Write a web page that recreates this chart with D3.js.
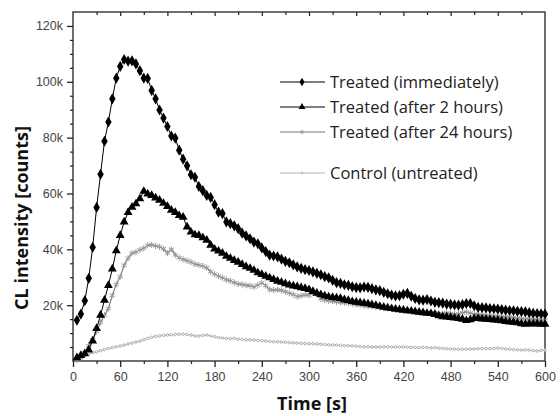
<!DOCTYPE html>
<html><head><meta charset="utf-8">
<script src="https://cdn.jsdelivr.net/npm/d3@7"></script>
<style>body{margin:0;background:#fff}svg{display:block}</style>
</head><body>
<svg id="c" width="560" height="416"></svg>
<script>
const times = d3.range(5, 601, 5);
const seriesNames = ["Treated (immediately)", "Treated (after 2 hours)", "Treated (after 24 hours)", "Control (untreated)"];
const immediately = [14.6,16.8,21.6,29.6,40.7,55.0,66.9,78.7,85.6,93.9,101.3,105.5,108.0,107.4,107.5,106.4,104.0,101.3,101.2,96.9,93.9,89.9,87.0,84.0,80.6,79.8,75.5,72.3,69.9,66.7,65.8,62.5,61.0,59.3,58.6,56.0,53.3,52.8,49.8,49.2,48.4,47.4,45.8,44.8,43.8,42.6,42.0,40.5,39.2,37.9,37.6,37.3,36.5,35.7,35.2,34.4,33.7,33.2,32.7,32.4,31.9,31.4,30.9,30.2,29.8,28.9,28.1,27.8,27.3,27.1,26.6,26.3,26.2,26.5,26.4,25.9,25.5,25.2,24.6,24.1,23.6,23.3,23.4,23.9,24.2,23.2,22.4,21.9,21.8,22.0,21.5,21.0,20.9,20.7,20.4,20.3,20.1,20.0,20.2,20.6,20.6,19.8,19.2,19.1,19.0,18.8,18.7,18.6,18.4,18.2,18.1,18.0,17.8,17.7,17.6,17.3,17.1,17.0,16.9,16.8];
const after2h = [1.2,2.0,2.6,4.0,7.2,11.7,16.4,21.8,27.1,33.0,39.5,45.0,49.8,53.2,55.1,56.3,58.1,60.8,59.8,59.3,58.4,57.6,56.5,55.4,54.0,53.2,52.1,51.5,48.0,46.2,45.2,45.0,44.2,43.3,41.5,40.1,39.4,38.6,37.5,36.8,36.0,35.4,34.6,33.8,33.2,32.5,31.6,31.0,30.4,29.8,29.2,28.6,28.2,27.7,27.2,26.9,26.6,26.3,26.0,25.6,24.9,24.3,23.8,23.3,23.0,22.8,22.6,22.4,22.0,21.7,21.3,21.1,20.9,20.7,20.5,20.2,19.9,19.6,19.3,19.0,18.8,18.6,18.4,18.2,18.0,17.9,17.7,17.5,17.3,17.1,17.0,16.7,16.2,15.9,15.8,15.6,15.4,15.2,15.0,14.5,14.8,15.2,15.3,15.1,15.0,14.9,14.7,14.6,14.4,14.2,14.0,13.9,13.7,13.4,13.2,13.4,13.3,13.4,13.2,13.2];
const after24h = [0.3,1.2,3.0,5.5,7.6,10.6,13.8,16.4,18.8,23.5,27.4,30.2,34.3,36.8,38.6,39.0,39.8,40.4,41.4,41.6,41.2,40.9,40.2,38.6,40.0,38.0,37.0,36.4,35.9,35.4,34.7,34.4,34.0,33.4,32.0,31.1,30.4,29.8,29.1,28.7,28.1,27.6,27.4,27.1,27.0,26.5,27.2,28.0,27.0,25.6,25.4,25.5,25.3,24.8,24.3,23.8,23.1,23.4,23.7,23.5,24.4,23.8,22.3,21.8,21.6,21.4,21.2,21.0,20.9,20.7,20.5,20.2,20.0,19.8,19.6,19.5,19.3,19.2,19.0,18.9,18.7,18.6,18.4,18.3,18.1,18.0,17.8,17.6,17.5,17.3,17.2,17.4,17.0,16.9,17.2,17.0,16.8,16.9,17.3,17.6,17.2,16.8,16.6,16.5,16.3,16.2,16.1,16.0,15.9,15.8,15.8,15.6,15.4,15.2,15.1,15.0,14.9,14.8,14.7,14.6];
const control = [0.9,1.3,1.8,2.4,3.0,3.3,3.7,4.1,4.5,4.8,5.1,5.4,5.7,6.1,6.4,6.8,7.1,7.6,8.1,8.5,8.8,9.0,9.2,9.3,9.4,9.5,9.6,9.6,9.5,9.3,9.0,8.9,9.2,9.3,9.0,8.7,8.4,8.2,8.1,8.0,8.1,7.8,7.7,7.6,7.6,7.5,7.4,7.3,7.1,7.0,6.9,6.9,6.8,6.7,6.6,6.5,6.4,6.3,6.3,6.2,6.2,6.1,6.0,5.9,5.8,5.7,5.7,5.6,5.5,5.5,5.4,5.3,5.2,5.1,5.1,5.0,5.0,5.0,5.1,5.1,5.0,5.0,5.1,5.0,4.9,4.9,4.8,4.8,4.9,4.8,4.7,4.8,4.6,4.5,4.4,4.3,4.3,4.2,4.2,4.2,4.3,4.3,4.4,4.5,4.5,4.4,4.5,4.6,4.5,4.3,4.2,4.1,4.0,3.9,4.0,3.9,3.7,3.6,3.8,3.9];
const xTicks = [0,60,120,180,240,300,360,420,480,540,600];
const yTicks = [20,40,60,80,100,120];
const yTickLabels = ["20k","40k","60k","80k","100k","120k"];

const svg = d3.select("#c");
const L = 73, R = 545, T = 12, B = 361;
const x = d3.scaleLinear().domain([0,600]).range([L,R]);
const y = d3.scaleLinear().domain([0,125]).range([B,T]);
const axisColor = "#222";
const tickFont = "Liberation Sans, Arial, sans-serif";
const labFont = "Open Sans, sans-serif";

// frame
svg.append("rect").attr("x",L).attr("y",T).attr("width",R-L).attr("height",B-T)
  .attr("fill","none").attr("stroke",axisColor).attr("stroke-width",1.3);

// bottom axis
const xMinor = d3.range(30,600,60);
const gx = svg.append("g").attr("transform",`translate(0,${B})`)
  .call(d3.axisBottom(x).tickValues(xTicks).tickSize(6).tickPadding(5).tickFormat(d3.format("d")));
gx.select(".domain").remove();
gx.selectAll(".tick line").attr("stroke",axisColor).attr("stroke-width",1.3);
gx.selectAll(".tick text").attr("fill","#444").attr("font-size",12.5).attr("font-family",tickFont);
svg.append("g").attr("transform",`translate(0,${B})`)
  .call(d3.axisBottom(x).tickValues(xMinor).tickSize(3).tickFormat(""))
  .call(g=>{g.select(".domain").remove();g.selectAll("line").attr("stroke",axisColor).attr("stroke-width",1.2);});
// top ticks (inward)
svg.append("g").attr("transform",`translate(0,${T})`)
  .call(d3.axisBottom(x).tickValues(xTicks.slice(1,-1)).tickSize(4).tickFormat(""))
  .call(g=>{g.select(".domain").remove();g.selectAll("line").attr("stroke",axisColor).attr("stroke-width",1.2);});
svg.append("g").attr("transform",`translate(0,${T})`)
  .call(d3.axisBottom(x).tickValues(xMinor).tickSize(3).tickFormat(""))
  .call(g=>{g.select(".domain").remove();g.selectAll("line").attr("stroke",axisColor).attr("stroke-width",1.2);});

// left axis
const gy = svg.append("g").attr("transform",`translate(${L},0)`)
  .call(d3.axisLeft(y).tickValues(yTicks).tickSize(6).tickPadding(4).tickFormat((d,i)=>yTickLabels[i]));
gy.select(".domain").remove();
gy.selectAll(".tick line").attr("stroke",axisColor).attr("stroke-width",1.3);
gy.selectAll(".tick text").attr("fill","#444").attr("font-size",12.5).attr("font-family",tickFont);
const yMinor = d3.range(5,125,5).filter(v=>v%20!==0);
svg.append("g").attr("transform",`translate(${L},0)`)
  .call(d3.axisLeft(y).tickValues(yMinor).tickSize(3).tickFormat(""))
  .call(g=>{g.select(".domain").remove();g.selectAll("line").attr("stroke",axisColor).attr("stroke-width",1.2);});

// axis titles
svg.append("text").attr("x",312).attr("y",410).attr("text-anchor","middle")
  .attr("font-family",labFont).attr("font-weight","bold").attr("font-size",18).attr("fill","#111").text("Time [s]");
svg.append("text").attr("transform",`translate(28,218) rotate(-90)`).attr("text-anchor","middle")
  .attr("font-family",labFont).attr("font-weight","bold").attr("font-size",18).attr("fill","#111").text("CL intensity [counts]");

const specs = [
  {vals: immediately, color:"#000", lw:1, sym:d3.symbolDiamond, size:36, fill:"#000", stroke:"none"},
  {vals: after2h, color:"#000", lw:1, sym:d3.symbolTriangle, size:34, fill:"#000", stroke:"none"},
  {vals: after24h, color:"#777", lw:1.1, sym:d3.symbolAsterisk, size:26, fill:"none", stroke:"#999"},
  {vals: control, color:"#aaa", lw:0.9, sym:d3.symbolCircle, size:5, fill:"#fff", stroke:"#aaa"}
];
const line = d3.line().x(d=>x(d[0])).y(d=>y(d[1]));
const order = [3,2,1,0];
order.forEach(i=>{
  const s = specs[i];
  const pts = times.map((t,j)=>[t,s.vals[j]]);
  svg.append("path").datum(pts).attr("d",line).attr("fill","none").attr("stroke",s.color).attr("stroke-width",s.lw);
  svg.append("g").selectAll("path").data(pts).join("path")
    .attr("transform",d=>`translate(${x(d[0])},${y(d[1])})`)
    .attr("d",d3.symbol(s.sym,s.size)).attr("fill",s.fill).attr("stroke",s.stroke).attr("stroke-width",1);
});

// legend
const legY = [82,107,132,173];
const lg = svg.append("g");
specs.forEach((s,i)=>{
  const g = lg.append("g").attr("transform",`translate(0,${legY[i]})`);
  g.append("line").attr("x1",280).attr("x2",325).attr("y1",0).attr("y2",0).attr("stroke",s.color).attr("stroke-width",s.lw);
  g.append("path").attr("transform","translate(302,0)").attr("d",d3.symbol(s.sym, s.size*0.6))
    .attr("fill",s.fill).attr("stroke",s.stroke).attr("stroke-width",0.8);
  g.append("text").attr("x",330).attr("y",6).attr("font-family",labFont).attr("font-size",16.5)
    .attr("fill","#222").text(seriesNames[i]);
});
</script>
</body></html>
